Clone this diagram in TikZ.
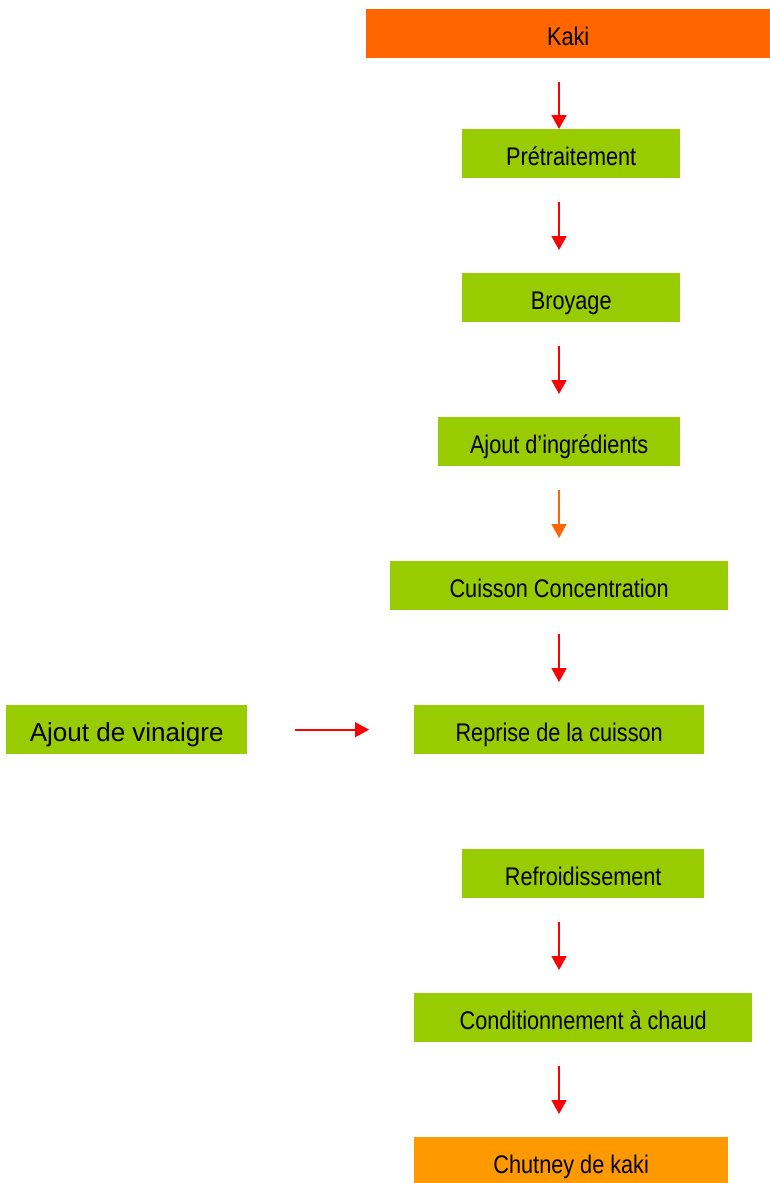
\documentclass[tikz,border=0pt]{standalone}
\usepackage{fontspec}
\setmainfont{Liberation Sans}
\newfontfamily\condfont[FakeStretch=0.85]{Liberation Sans}
\usetikzlibrary{arrows.meta,positioning,calc}
\definecolor{stepgreen}{HTML}{99CC00}
\definecolor{kakiorange}{HTML}{FF6600}
\definecolor{chutneyorange}{HTML}{FF9900}
\tikzset{
	stepbox/.style={rectangle,anchor=north west,inner sep=0,minimum height=49pt,text height=24pt,text depth=0pt,fill=stepgreen,font=\condfont\fontsize{25.5}{28}\selectfont},
	startbox/.style={stepbox,fill=kakiorange},
	endbox/.style={stepbox,fill=chutneyorange},
	diredge/.style={-{Triangle[width=15pt,length=14pt]},line width=1.6pt,color=red,shorten <=24pt,shorten >=23pt},
	diredge2/.style={diredge,color=kakiorange}
}

\begin{document}
\begin{tikzpicture}[x=1pt,y=-1pt]
	\useasboundingbox (0,0) rectangle (770,1183);
	%%%% steps
	\node[startbox,minimum width=404pt] (kaki) at (366,9) {Kaki};
	\node[stepbox,minimum width=218pt] (pret) at (462,129) {Prétraitement};
	\node[stepbox,minimum width=218pt] (broy) at (462,273) {Broyage};
	\node[stepbox,minimum width=242pt] (ingr) at (438,417) {Ajout d’ingrédients};
	\node[stepbox,minimum width=338pt] (cuis) at (390,561) {Cuisson Concentration};
	\node[stepbox,minimum width=290pt] (repr) at (414,705) {Reprise de la cuisson};
	\node[stepbox,minimum width=241pt,font=\fontsize{26}{28}\selectfont] (vina) at (6,705) {Ajout de vinaigre};
	\node[stepbox,minimum width=242pt] (refr) at (462,849) {Refroidissement};
	\node[stepbox,minimum width=338pt] (cond) at (414,993) {Conditionnement à chaud};
	\node[endbox,minimum width=314pt] (chut) at (414,1137) {Chutney de kaki};
	
	%%%% arrows
	\coordinate (col) at (559,0);
	\draw[diredge,shorten >=0pt] (kaki.south -| col) -- (pret.north -| col);
	\draw[diredge] (pret.south -| col) -- (broy.north -| col);
	\draw[diredge] (broy.south -| col) -- (ingr.north -| col);
	\draw[diredge2] (ingr.south -| col) -- (cuis.north -| col);
	\draw[diredge] (cuis.south -| col) -- (repr.north -| col);
	\draw[diredge,shorten <=48pt,shorten >=45pt] (vina) -- (repr);
	\draw[diredge] (refr.south -| col) -- (cond.north -| col);
	\draw[diredge] (cond.south -| col) -- (chut.north -| col);
\end{tikzpicture}
\end{document}
